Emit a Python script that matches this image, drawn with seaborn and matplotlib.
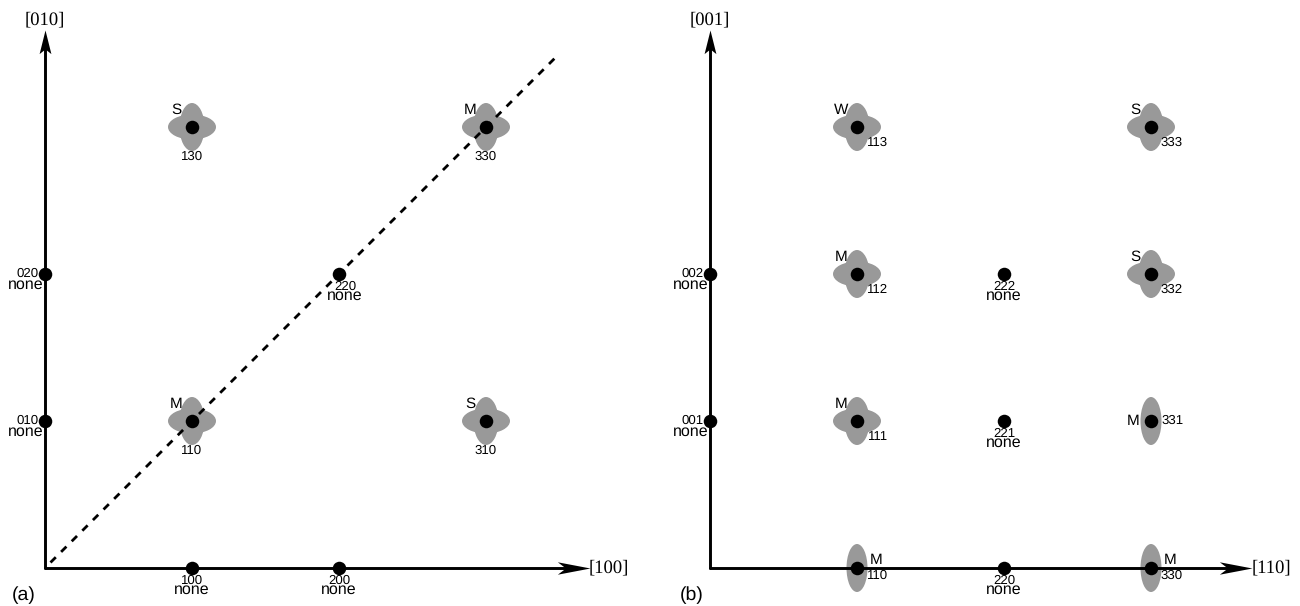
import matplotlib
matplotlib.use("Agg")
import matplotlib.pyplot as plt
import seaborn as sns
from matplotlib.patches import Ellipse
from matplotlib.path import Path

# reflections in panel (a): x, y in grid units, index label, strength, blob shape
a_x = [1, 3, 1, 3, 0, 0, 2, 1, 2]
a_y = [3, 3, 1, 1, 2, 1, 2, 0, 0]
a_hkl = ["130", "330", "110", "310", "020", "010", "220", "100", "200"]
a_strength = ["S", "M", "M", "S", "none", "none", "none", "none", "none"]
a_shape = ["cross", "cross", "cross", "cross", "", "", "", "", ""]
a_place = ["below", "below", "below", "below", "left", "left", "diag", "under", "under"]

# reflections in panel (b)
b_x = [1, 3, 1, 2, 3, 0, 1, 2, 3, 0, 1, 2, 3]
b_y = [3, 3, 2, 2, 2, 2, 1, 1, 1, 1, 0, 0, 0]
b_hkl = ["113", "333", "112", "222", "332", "002", "111", "221", "331", "001", "110", "220", "330"]
b_strength = ["W", "S", "M", "none", "S", "none", "M", "none", "M", "none", "M", "none", "M"]
b_shape = ["cross", "cross", "cross", "", "cross", "", "cross", "", "vert", "", "vert", "", "vert"]
b_place = ["side", "side", "side", "under", "side", "left", "side", "under", "beside", "left", "axis", "under", "axis"]

UNIT = 147.0  # px per grid step
W, H = 1300, 606
GREY = "#999999"
SANS = "Liberation Sans"
SERIF = "Liberation Serif"

# label offsets in px from the spot: (index dx, dy), (strength dx, dy)
PLACES = {
    "below": ((0, -30), (-16, 17)),
    "side": ((21, -16), (-16, 17)),
    "beside": ((22, 0), (-18, 0)),
    "axis": ((21, -8), (19, 8)),
    "left": ((-17, 0), (-19, -11)),
    "under": ((0, -13), (0, -22)),
    "diag": ((6, -13), (6, -22)),
}

sns.set_theme(style="white")
plt.rcParams["font.family"] = [SANS, "DejaVu Sans"]
plt.rcParams["text.color"] = "black"
plt.rcParams["text.hinting"] = "no_hinting"


def px(x, y):
    # pixel offset label helper
    return dict(xytext=(x, y), textcoords="offset pixels", ha="center", va="center")


def draw_panel(ax, xs, ys, hkl, strength, shape, place, xname, yname, tag, tip_x, tip_y):
    ax.set_aspect("equal", adjustable="box")
    ax.axis("off")

    for x, y, s in zip(xs, ys, shape):
        if s == "vert":
            ax.add_patch(Ellipse((x, y), 21 / UNIT, 48 / UNIT, fc=GREY, ec="none", zorder=1))
        if s == "cross":
            ax.add_patch(Ellipse((x, y), 25 / UNIT, 48 / UNIT, fc=GREY, ec="none", zorder=1))
            ax.add_patch(Ellipse((x, y), 48 / UNIT, 25 / UNIT, fc=GREY, ec="none", zorder=1))

    # axes with stealth arrow heads
    sns.lineplot(x=[0, tip_x - 0.1], y=[0, 0], color="black", lw=2.1, ax=ax, zorder=2, estimator=None)
    sns.lineplot(x=[0, 0], y=[0, tip_y - 0.1], color="black", lw=2.1, ax=ax, zorder=2, estimator=None, sort=False)
    head_h = Path([(0, 0), (-1, 0.19), (-0.75, 0), (-1, -0.19), (0, 0)], closed=True)
    head_v = Path([(0, 0), (0.25, -1), (0, -0.8), (-0.25, -1), (0, 0)], closed=True)
    ax.plot(tip_x, 0, marker=head_h, ms=47, mew=0, color="black", zorder=2, clip_on=False)
    ax.plot(0, tip_y, marker=head_v, ms=34, mew=0, color="black", zorder=2, clip_on=False)

    sns.scatterplot(x=xs, y=ys, s=95, color="black", linewidth=0, ax=ax, zorder=3, clip_on=False)

    for x, y, name, st, p in zip(xs, ys, hkl, strength, place):
        off_i, off_s = PLACES[p]
        ax.annotate(name, (x, y), fontsize=9.5, family=SANS, **px(*off_i))
        ax.annotate(st, (x, y), fontsize=11.5 if st == "none" else 11, family=SANS, **px(*off_s))

    ax.annotate(xname, (tip_x, 0), fontsize=13.4, family=SERIF, **px(19, 0))
    ax.annotate(yname, (0, tip_y), fontsize=13.4, family=SERIF, **px(0, 10))
    ax.annotate(tag, (0, 0), fontsize=14, family=SANS, **px(-21 if tag == "(a)" else -18, -27))


fig = plt.figure(figsize=(W / 100, H / 100), dpi=100, facecolor="white")

ax_a = fig.add_axes([0, 0, 0.5, 1])
ax_a.set_xlim(-45 / UNIT, (650 - 45) / UNIT)
ax_a.set_ylim(-38 / UNIT, 568 / UNIT)
draw_panel(ax_a, a_x, a_y, a_hkl, a_strength, a_shape, a_place, "[100]", "[010]", "(a)", 3.707, 3.66)
sns.lineplot(x=[0, 3.47], y=[0, 3.47], color="black", lw=2, linestyle=(2.6, (2.7, 2.7)), ax=ax_a, zorder=2, estimator=None)

ax_b = fig.add_axes([0.5, 0, 0.5, 1])
ax_b.set_xlim(-60 / UNIT, (650 - 60) / UNIT)
ax_b.set_ylim(-38 / UNIT, 568 / UNIT)
draw_panel(ax_b, b_x, b_y, b_hkl, b_strength, b_shape, b_place, "[110]", "[001]", "(b)", 3.69, 3.66)

fig.savefig("out.png", dpi=100)
plt.close(fig)
